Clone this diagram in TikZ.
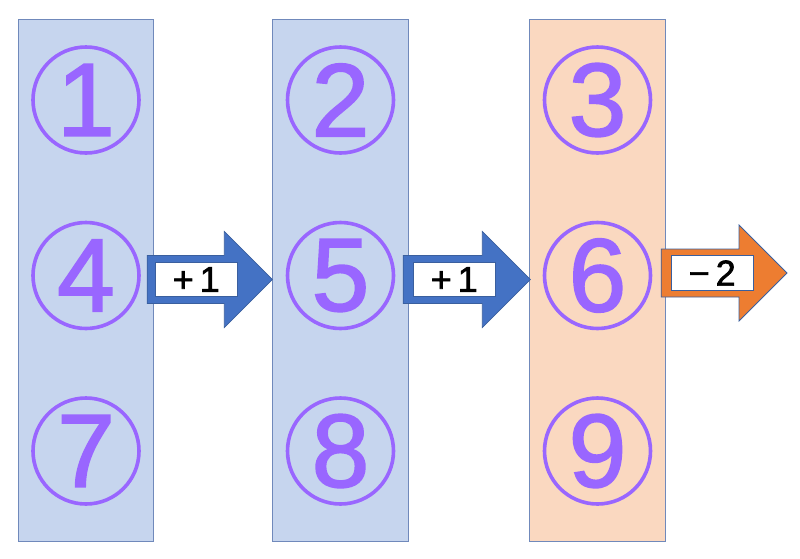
\documentclass[tikz,border=0pt]{standalone}
\usepackage{fontspec}
\setmainfont{Liberation Sans}
\newfontfamily\heavysans[FakeBold=1.6]{Liberation Sans}
\usetikzlibrary{calc,positioning}

\definecolor{colblue}{HTML}{C6D5EE}
\definecolor{colorange}{HTML}{FAD8C0}
\definecolor{colline}{HTML}{7089BB}
\definecolor{numpurple}{HTML}{9966FF}
\definecolor{arrblue}{HTML}{4472C4}
\definecolor{arrorange}{HTML}{ED7D31}
\definecolor{arrline}{HTML}{3A5F9E}

\tikzset{
  colbox/.style={draw=colline, line width=0.75pt, minimum width=101.5pt, minimum height=391.5pt, inner sep=0pt},
  circnum/.style={circle, draw=numpurple, line width=2.7pt, text=numpurple, minimum size=79.5pt, inner sep=0pt, font=\heavysans\fontsize{78}{80}\selectfont},
  tag/.style={draw=arrline, line width=0.6pt, fill=white, minimum width=61pt, minimum height=26pt, inner sep=0pt, font=\heavysans\fontsize{27}{29}\selectfont},
  blockarrow/.style={draw=arrline, line width=0.6pt},
}

% block arrow from tail #1 to tip #2
\newcommand\blockarrow[3]{%
  \draw[blockarrow, fill=#3] let \p1=(#1), \p2=(#2) in
    (\x1,\y2+18pt) -- (\x2-36pt,\y2+18pt) -- (\x2-36pt,\y2+36pt) -- (\x2,\y2)
    -- (\x2-36pt,\y2-36pt) -- (\x2-36pt,\y2-18pt) -- (\x1,\y2-18pt) -- cycle;}

\begin{document}
\begin{tikzpicture}[x=0.75pt,y=-0.75pt]
    \useasboundingbox (0,0) rectangle (800,558);
    % columns
    \node [colbox, fill=colblue] (c1) at (86,280) {};
    \node [colbox, fill=colblue] (c2) at (340.5,280) {};
    \node [colbox, fill=colorange] (c3) at (597.5,280) {};
    % arrows
    \coordinate (s1) at ($(c1.east |- 0,279.5)+(-7,0)$);
    \coordinate (t1) at (c2.west |- 0,279.5);
    \coordinate (s2) at ($(c2.east |- 0,279.5)+(-5.5,0)$);
    \coordinate (t2) at ($(c3.west |- 0,279.5)+(1,0)$);
    \coordinate (s3) at ($(c3.east |- 0,273)+(-4.5,0)$);
    \coordinate (out) at (787,273);
    \blockarrow{s1}{t1}{arrblue}
    \blockarrow{s2}{t2}{arrblue}
    \blockarrow{s3}{out}{arrorange}
    \node [tag, right=6pt of s1, anchor=west] (l1) {+\,1};
    \node [tag, right=7.5pt of s2, anchor=west] (l2) {+\,1};
    \node [tag, right=7.5pt of s3, anchor=west] (l3) {−\,2};
    % circled numbers
    \foreach \n in {1,...,9} {
        \pgfmathtruncatemacro\col{mod(\n-1,3)+1}
        \pgfmathsetmacro\row{100+175.5*int((\n-1)/3)}
        \node [circnum] (n\n) at (c\col.center |- 0,\row) {\n};
    }
\end{tikzpicture}
\end{document}
